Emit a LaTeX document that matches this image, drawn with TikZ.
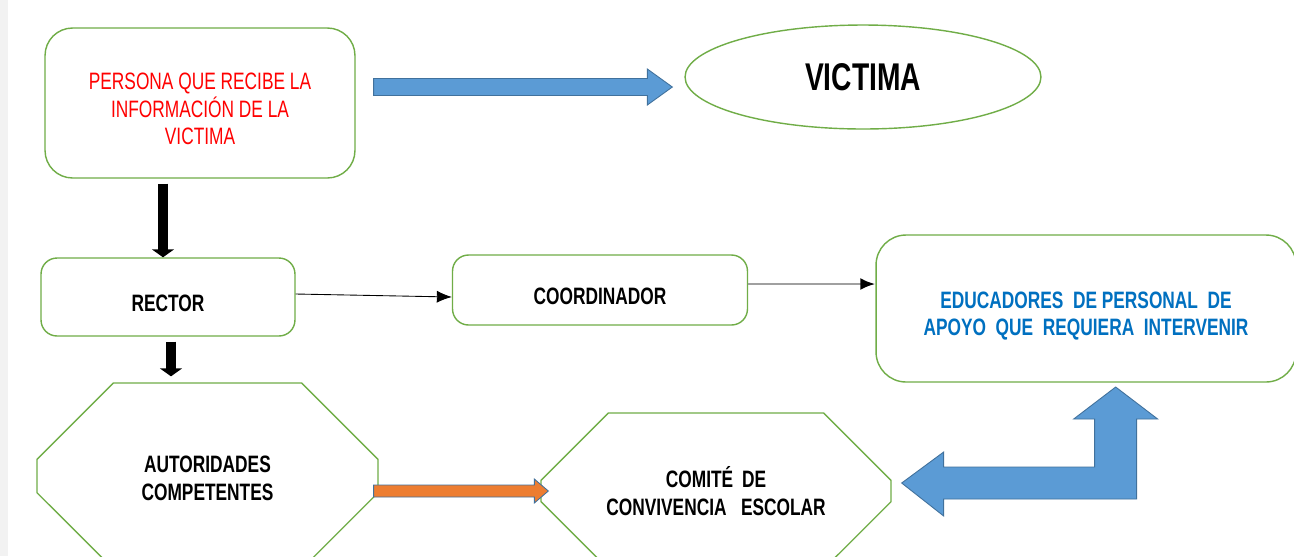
\documentclass[tikz,border=0pt]{standalone}
\usepackage{fontspec}
\setmainfont{Liberation Sans}[FakeStretch=0.73]
\usetikzlibrary{positioning,calc,shapes.geometric,shapes.misc,arrows.meta}
\definecolor{verde}{RGB}{112,173,71}
\definecolor{azul}{RGB}{91,155,213}
\definecolor{azulborde}{RGB}{65,113,156}
\definecolor{naranja}{RGB}{237,125,49}
\definecolor{azultexto}{RGB}{0,112,192}
\definecolor{gris}{RGB}{160,160,160}
\newcommand\baja[1]{\rule{0pt}{#1}}
\tikzset{
  caja/.style={draw=verde, line width=0.8pt, rounded corners=0.32cm, fill=white, align=center, inner sep=0pt},
  octo/.style={draw=verde, line width=0.8pt, chamfered rectangle, fill=white, align=center, inner sep=0pt},
  letra/.style={font=\bfseries\fontsize{13.5}{15.5}\selectfont},
  flechanegra/.style={line width=0.2cm, -{Triangle[length=0.16cm,width=0.44cm]}},
  bloque/.style={draw=azulborde, line width=0.5pt, fill=azul},
}
\begin{document}
\begin{tikzpicture}[x=0.02cm, y=-0.02cm, >=latex]
\useasboundingbox (0,0) rectangle (1294,556);
\clip (0,0) rectangle (1294,556);
\fill[white] (0,0) rectangle (1294,556);
\fill[gray!10] (0,0) rectangle (8,556);

% cajas
\node[caja, minimum width=6.2cm, minimum height=3cm, rounded corners=0.55cm, text=red, font=\fontsize{13.5}{15.6}\selectfont] (persona) at (200,103) {\baja{0.58cm}PERSONA QUE RECIBE LA\\INFORMACIÓN DE LA\\VICTIMA};
\node[draw=verde, line width=0.8pt, ellipse, minimum width=7.12cm, minimum height=2.08cm, inner sep=0pt, font=\bfseries\fontsize{22}{24}\selectfont] (victima) at (863,77) {VICTIMA};
\node[caja, letra, minimum width=5.08cm, minimum height=1.56cm] (rector) at (168,297) {\baja{0.58cm}RECTOR};
\node[caja, letra, minimum width=5.9cm, minimum height=1.4cm] (coord) at (600,290) {\baja{0.58cm}COORDINADOR};
\node[caja, letra, rounded corners=0.6cm, text=azultexto, minimum width=8.4cm, minimum height=2.94cm] (educ) at (1086,308.5) {\baja{0.62cm}EDUCADORES\ \ DE PERSONAL\ \ DE\\APOYO\ \ QUE\ \ REQUIERA\ \ INTERVENIR};
\node[octo, letra, minimum width=6.82cm, minimum height=3.72cm, chamfered rectangle xsep=1.32cm, chamfered rectangle ysep=1.04cm] (autor) at (207.5,476) {\baja{0.42cm}AUTORIDADES\\COMPETENTES};
\node[octo, letra, minimum width=7cm, minimum height=3.12cm, chamfered rectangle xsep=1.18cm, chamfered rectangle ysep=0.86cm] (comite) at (716,491) {\baja{0.42cm}COMITÉ\ \,DE\\CONVIVENCIA\ \ \ ESCOLAR};

% flechas
\draw[flechanegra] ([xshift=-0.1cm,yshift=-0.1cm]persona.south -| rector.north) -- ([xshift=-0.1cm]rector.north);
\draw[flechanegra] ([xshift=0.06cm,yshift=-0.1cm]rector.south) -- ([xshift=0.06cm,yshift=0.12cm]rector.south |- autor.north);
\draw[line width=0.5pt, -{Latex[length=0.3cm,width=0.24cm]}] ([yshift=0.06cm]rector.east) -- ([yshift=-0.14cm]coord.west);
\draw[gris, line width=1.5pt, -{Latex[black,length=0.3cm,width=0.24cm]}] ([yshift=0.12cm]coord.east) -- ([yshift=0.12cm]coord.east -| educ.west);

\coordinate (b1) at ($(persona.east)+(18,-16)$);
\coordinate (b2) at ($(victima.west)+(-12,10)$);
\draw[bloque] ($(b1)+(0,-8.5)$) -- ($(b2)+(-25,-8.5)$) -- ($(b2)+(-25,-18)$) -- (b2) -- ($(b2)+(-25,18)$) -- ($(b2)+(-25,8.5)$) -- ($(b1)+(0,8.5)$) -- cycle;

\coordinate (o1) at ($(autor.east)+(-5,15)$);
\coordinate (o2) at ($(comite.west)+(8,0)$);
\draw[bloque, fill=naranja] ($(o1)+(0,-6)$) -- ($(o2)+(-14,-6)$) -- ($(o2)+(-14,-12)$) -- (o2) -- ($(o2)+(-14,12)$) -- ($(o2)+(-14,6)$) -- ($(o1)+(0,6)$) -- cycle;

\draw[bloque] ($(comite.east)+(10,-8)$) -- ++(42,-31) -- ++(0,15) -- ++(151,0) -- ++(0,-48) -- ++(-21,0) -- ++(42,-32) -- ++(42,32) -- ++(-21,0) -- ++(0,80) -- ++(-193,0) -- ++(0,17) -- cycle;

\end{tikzpicture}
\end{document}
